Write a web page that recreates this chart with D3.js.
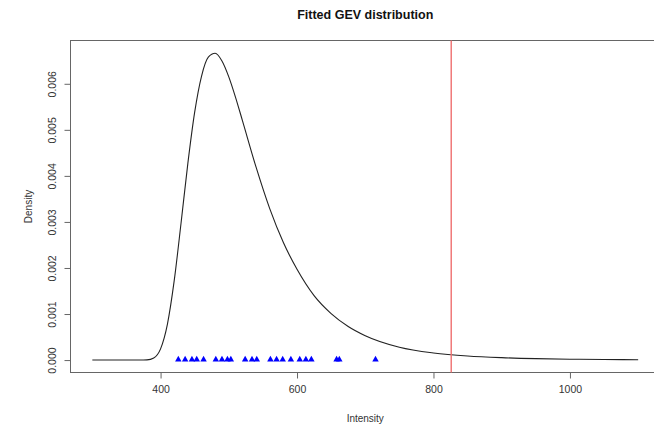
<!DOCTYPE html>
<html>
<head>
<meta charset="utf-8">
<script src="https://cdn.jsdelivr.net/npm/d3@7"></script>
<style>
  body { margin: 0; background: #fff; }
  svg { display: block; font-family: "Liberation Sans", Arial, Helvetica, sans-serif; }
</style>
</head>
<body>
<script>
// fitted density curve
var intensity = [300, 350, 370, 380, 390, 400, 410, 420, 430, 440, 450, 460, 470, 480, 490,
  500, 510, 520, 540, 560, 580, 600, 625, 650, 675, 700, 750, 800, 850, 900, 950, 1000, 1050, 1100];
var density = [0, 0, 0, 0.000004, 0.000046, 0.000244, 0.000776, 0.001724, 0.002971, 0.004271,
  0.005383, 0.006163, 0.006578, 0.006664, 0.006496, 0.006151, 0.005701, 0.0052, 0.004189,
  0.003289, 0.002552, 0.001972, 0.0014, 0.00101, 0.00073, 0.00053, 0.00028, 0.000155,
  0.000088, 0.000052, 0.000031, 0.000019, 0.000012, 0.000008];

// observed maxima (blue triangles)
var observed = [426, 436, 446, 453, 463, 481, 490, 498, 503, 524, 534, 541,
  561, 570, 579, 591, 604, 613, 621, 658, 662, 715];

var threshold = 826;

var xTicks = [400, 600, 800, 1000];
var yTicks = [0, 0.001, 0.002, 0.003, 0.004, 0.005, 0.006];

var width = 654, height = 424;

var x = d3.scaleLinear()
  .domain([268, 1132])
  .range([70.5, 660]);
var y = d3.scaleLinear()
  .domain([-0.00027, 0.00694])
  .range([372.5, 40.5]);

var svg = d3.select("body").append("svg")
  .attr("width", width)
  .attr("height", height);

var axisCol = "#666";

// plot box
svg.append("rect")
  .attr("x", x.range()[0])
  .attr("y", y.range()[1])
  .attr("width", x.range()[1] - x.range()[0])
  .attr("height", y.range()[0] - y.range()[1])
  .attr("fill", "none")
  .attr("stroke", axisCol)
  .attr("stroke-width", 1);

// x axis
var xAxis = svg.append("g")
  .attr("transform", "translate(0," + y.range()[0] + ")")
  .call(d3.axisBottom(x).tickValues(xTicks).tickSize(6).tickPadding(7).tickFormat(d3.format("d")));
xAxis.select(".domain")
  .attr("d", "M" + x(xTicks[0]) + ",0H" + x(xTicks[xTicks.length - 1]));
xAxis.selectAll("line, path").attr("stroke", axisCol);
xAxis.selectAll("text").attr("font-size", 10.5).attr("fill", "#333").attr("font-family", null);

// y axis
var yAxis = svg.append("g")
  .attr("transform", "translate(" + x.range()[0] + ",0)")
  .call(d3.axisLeft(y).tickValues(yTicks).tickSize(6).tickFormat(d3.format(".3f")));
yAxis.select(".domain")
  .attr("d", "M0," + y(yTicks[0]) + "V" + y(yTicks[yTicks.length - 1]));
yAxis.selectAll("line, path").attr("stroke", axisCol);
yAxis.selectAll("text")
  .attr("font-size", 10.5)
  .attr("fill", "#333")
  .attr("font-family", null)
  .attr("x", null).attr("dy", null)
  .attr("text-anchor", "middle")
  .attr("transform", "translate(-15,0) rotate(-90)");

// density curve
var line = d3.line()
  .x(function(d, i) { return x(intensity[i]); })
  .y(function(d) { return y(d); })
  .curve(d3.curveMonotoneX);

svg.append("path")
  .datum(density)
  .attr("d", line)
  .attr("fill", "none")
  .attr("stroke", "#222")
  .attr("stroke-width", 1.1);

// threshold line
svg.append("line")
  .attr("x1", x(threshold)).attr("x2", x(threshold))
  .attr("y1", y.range()[1]).attr("y2", y.range()[0])
  .attr("stroke", "#ef7070")
  .attr("stroke-width", 1.4);

// observations
svg.selectAll(".obs")
  .data(observed)
  .join("path")
    .attr("class", "obs")
    .attr("d", d3.symbol(d3.symbolTriangle, 18))
    .attr("transform", function(d) { return "translate(" + x(d) + "," + (y(0) - 0.5) + ")"; })
    .attr("fill", "#0000ff");

// titles
svg.append("text")
  .attr("x", (x.range()[0] + x.range()[1]) / 2)
  .attr("y", 19)
  .attr("text-anchor", "middle")
  .attr("font-size", 12.5)
  .attr("font-weight", "bold")
  .attr("fill", "#111")
  .text("Fitted GEV distribution");

svg.append("text")
  .attr("x", (x.range()[0] + x.range()[1]) / 2)
  .attr("y", 422)
  .attr("text-anchor", "middle")
  .attr("font-size", 10)
  .attr("fill", "#333")
  .text("Intensity");

svg.append("text")
  .attr("transform", "translate(32," + (y.range()[0] + y.range()[1]) / 2 + ") rotate(-90)")
  .attr("text-anchor", "middle")
  .attr("font-size", 10)
  .attr("fill", "#333")
  .text("Density");
</script>
</body>
</html>
